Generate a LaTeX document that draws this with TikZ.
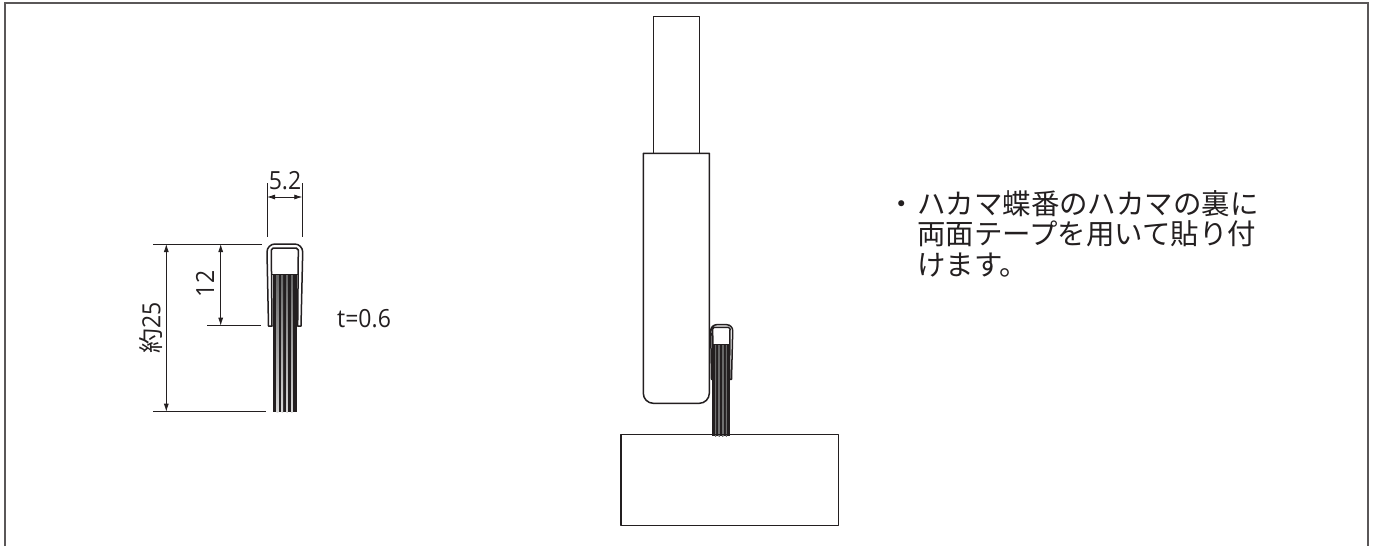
\documentclass[tikz,border=0pt]{standalone}
\usepackage{fontspec}
\setmainfont[FakeStretch=0.92]{Open Sans}
\newfontfamily\cjk{Noto Sans CJK JP}
\usetikzlibrary{arrows.meta}
\definecolor{ink}{HTML}{231F20}
\tikzset{
  x=1pt,y=-1pt,
  part/.style={draw=ink,line width=1.5pt,line join=round},
  frameline/.style={draw=ink!75,line width=2pt},
  thin dim/.style={draw=ink,line width=0.8pt},
  dimarrow/.style={draw=ink,line width=0.8pt,{Latex[length=8pt,width=5pt]}-{Latex[length=8pt,width=5pt]}},
  dimtext/.style={inner sep=0pt,text=ink,font=\fontsize{25}{25}\selectfont},
  jp/.style={inner sep=0pt,text=ink,anchor=base west,font=\cjk\fontsize{28.45}{28.45}\selectfont},
}
\newcommand{\bristles}[8]{% left, right, top, bottom, count, top gray, mid gray, bottom gray
  \fill[ink] (#1,#3) rectangle (#2,#4);
  \pgfmathsetmacro{\stp}{(#2-#1)/#5}
  \pgfmathtruncatemacro{\last}{#5-1}
  \foreach \i in {1,...,\last}{
    \pgfmathsetmacro{\xa}{#1+\i*\stp}
    \shade[top color=black!#6,middle color=black!#7,bottom color=black!#8]
      (\xa-0.16*\stp,#3) rectangle (\xa+0.16*\stp,#4);
  }
}
\begin{document}
\begin{tikzpicture}
\useasboundingbox (0,0) rectangle (1375,546);
\fill[white] (0,0) rectangle (1375,546);
% frame (open at the foot: the sheet is cut there)
\draw[frameline] (5.3,546) -- (5.3,3) -- (1367.5,3) -- (1367.5,546);
% left clip
\bristles{272.7}{296.7}{274}{412}{5}{60}{80}{15}
\draw[part,fill=white] (268.5,326) -- (267,252) arc[start angle=180,end angle=270,radius=8] -- (294.7,244) arc[start angle=270,end angle=360,radius=8] -- (301,326) -- (297.7,326) -- (298.3,250) -- (296.3,248) -- (273.3,248) -- (271.3,250) -- (272,326) -- cycle;
\draw[part,line width=1pt] (271.6,274) -- (298,274);
% right figure
\draw[part] (653.7,16.7) rectangle (699.3,153.3);
\draw[part,fill=white] (643.3,153.3) -- (709.3,153.3) -- (709.3,393.3) arc[start angle=0,end angle=90,radius=10] -- (653.3,403.3) arc[start angle=90,end angle=180,radius=10] -- cycle;
\bristles{712}{730}{344.7}{436}{5}{60}{95}{55}
\draw[part] (621,434.7) rectangle (838.7,525.7);
\draw[part] (711.5,379.3) -- (710.7,330.7) arc[start angle=180,end angle=270,radius=6] -- (726.7,324.7) arc[start angle=270,end angle=360,radius=6] -- (731.5,379.3) -- (729.5,379.3) -- (730,329) -- (728.5,327.3) -- (714,327.3) -- (712.7,329) -- (713,379.3) -- cycle;
\draw[part,line width=1pt] (712.7,344.7) -- (730,344.7);
% dimension lines
\coordinate (wl) at (267,183); \coordinate (wl2) at (267,237);
\coordinate (wr) at (302.3,183); \coordinate (wr2) at (302.3,237);
\draw[thin dim] (wl) -- (wl2);
\draw[thin dim] (wr) -- (wr2);
\draw[dimarrow] (267,197) -- (302.3,197);
\draw[thin dim] (153,244) -- (262,244);
\draw[thin dim] (153,411.7) -- (266,411.7);
\draw[thin dim] (207,325.7) -- (261,325.7);
\draw[dimarrow] (166.3,244) -- (166.3,411.7);
\draw[dimarrow] (220.7,244) -- (220.7,325.7);
% labels
\node[dimtext] (lw) at (285,181) {5.2};
\node[dimtext,rotate=90] (lh) at (205,284) {12};
\node[dimtext,rotate=90] (lt) at (151,328) {{\cjk 約}25};
\node[dimtext,anchor=west] (lthk) at (337,319) {t=0.6};
\node[jp] (b) at (887,214.5) {・};
\node[jp] (l1) at (917,214.5) {ハカマ蝶番のハカマの裏に};
\node[jp] (l2) at (917,244) {両面テープを用いて貼り付};
\node[jp] (l3) at (917,275) {けます。};
\end{tikzpicture}
\end{document}
